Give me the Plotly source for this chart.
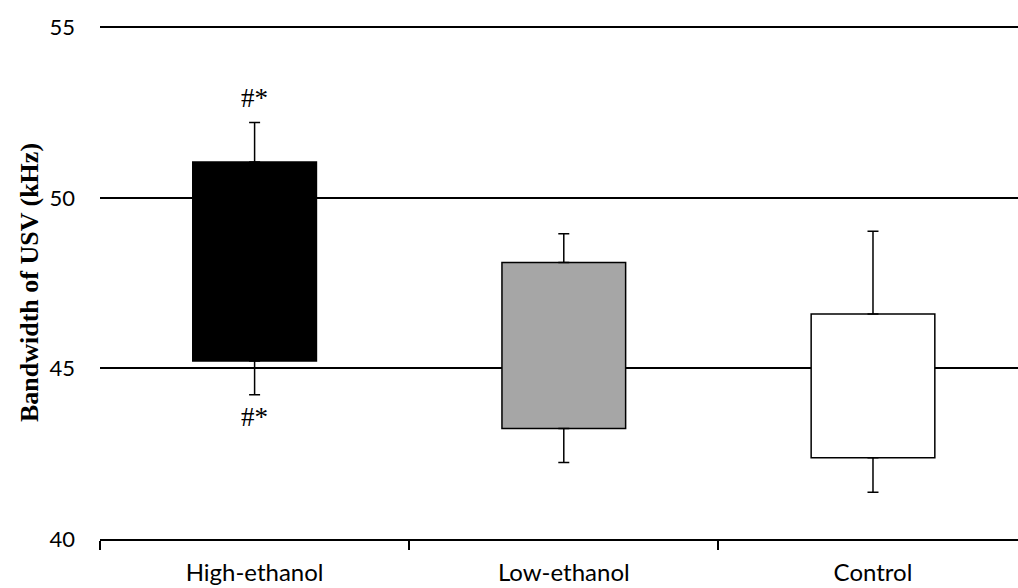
import plotly.graph_objects as go

categories = ["High-ethanol", "Low-ethanol", "Control"]
box_low = [45.22, 43.24, 42.38]
box_high = [51.05, 48.11, 46.60]
whisker_low = [44.23, 42.24, 41.37]
whisker_high = [52.21, 48.95, 49.02]
fills = ["#000000", "#a6a6a6", "#ffffff"]
sig_labels = ["#*", "", ""]
sig_upper_y = [52.92, None, None]
sig_lower_y = [43.57, None, None]

heights = [h - l for h, l in zip(box_high, box_low)]

fig = go.Figure()

fig.add_trace(go.Bar(
    x=categories, y=heights, base=box_low,
    marker=dict(color=fills, line=dict(color="black", width=1.5)),
    width=0.4, showlegend=False, hoverinfo="skip",
))

# upper whiskers
fig.add_trace(go.Scatter(
    x=categories, y=box_high, mode="markers",
    marker=dict(size=1, opacity=0),
    error_y=dict(type="data", symmetric=False,
                 array=[w - b for w, b in zip(whisker_high, box_high)],
                 arrayminus=[0, 0, 0],
                 color="black", thickness=1.5, width=5.5),
    showlegend=False, hoverinfo="skip",
))
# lower whiskers
fig.add_trace(go.Scatter(
    x=categories, y=box_low, mode="markers",
    marker=dict(size=1, opacity=0),
    error_y=dict(type="data", symmetric=False,
                 array=[0, 0, 0],
                 arrayminus=[b - w for w, b in zip(whisker_low, box_low)],
                 color="black", thickness=1.5, width=5.5),
    showlegend=False, hoverinfo="skip",
))

for cat, lab, yu, yl in zip(categories, sig_labels, sig_upper_y, sig_lower_y):
    if lab:
        for yy in (yu, yl):
            fig.add_annotation(x=cat, y=yy, text=lab, showarrow=False,
                               xanchor="center", yanchor="middle",
                               font=dict(family="Liberation Serif", size=27, color="black"))

fig.update_layout(
    width=1018, height=588,
    margin=dict(l=100, r=0, t=26, b=49),
    plot_bgcolor="white", paper_bgcolor="white",
    font=dict(family="Lato", size=22, color="black"),
)
fig.update_xaxes(
    type="category", range=[-0.5, 2.469],
    showline=True, linecolor="black", linewidth=1.5,
    ticks="outside", tickson="boundaries", ticklen=9, tickwidth=1.5, tickcolor="black",
    showgrid=False, ticklabelstandoff=11,
    tickfont=dict(family="Lato", size=24, color="black"),
)
fig.update_yaxes(
    range=[40, 55.04], dtick=5, tick0=40,
    showgrid=True, gridcolor="black", gridwidth=1.5,
    zeroline=False, showline=False, ticks="",
    ticklabelstandoff=24,
    tickfont=dict(family="Lato", size=22, color="black"),
    title=dict(text="<b>Bandwidth of USV (kHz)</b>", standoff=3,
               font=dict(family="Liberation Serif", size=26, color="black")),
)

fig.write_html("out.html")
